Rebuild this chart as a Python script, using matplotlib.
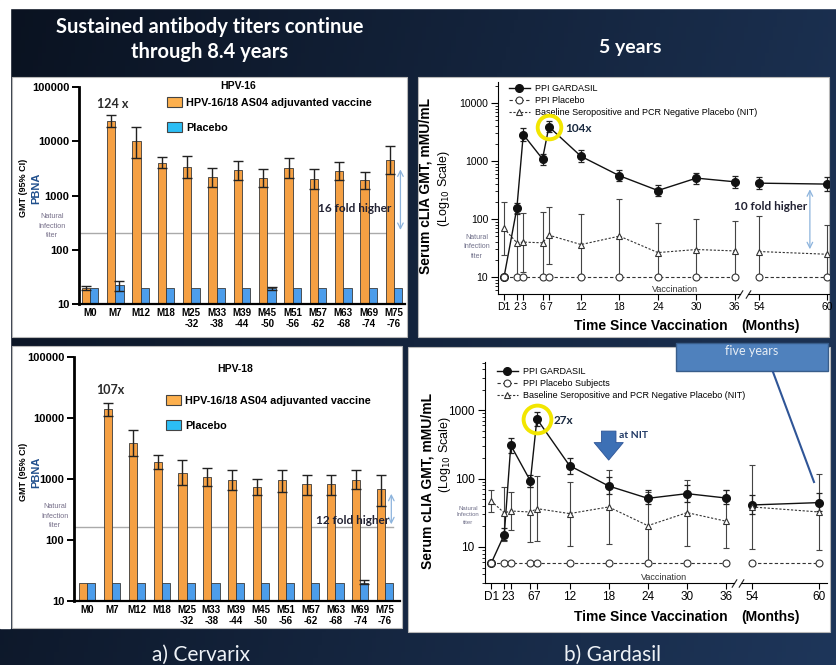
import numpy as np
import matplotlib
matplotlib.use('Agg')
import matplotlib.pyplot as plt
from matplotlib.patches import Rectangle, Patch
from matplotlib.ticker import LogLocator, NullFormatter, NullLocator

W, H = 836, 665

# ---------------- data ----------------
bar_categories = ['M0', 'M7', 'M12', 'M18', 'M25\n-32', 'M33\n-38', 'M39\n-44', 'M45\n-50',
                  'M51\n-56', 'M57\n-62', 'M63\n-68', 'M69\n-74', 'M75\n-76']

hpv16_vaccine = [20, 23200, 9900, 4050, 3330, 2200, 2920, 2140, 3220, 2000, 2880, 1900, 4580]
hpv16_vaccine_lo = [18.4, 18600, 4860, 3170, 2140, 1455, 1900, 1410, 2075, 1300, 1900, 1300, 2530]
hpv16_vaccine_hi = [21.5, 30200, 18600, 5080, 5300, 3270, 4340, 3130, 5010, 3130, 4220, 2760, 8330]
hpv16_placebo = [20, 22, 20, 20, 20, 20, 20, 20, 20, 20, 20, 20, 20]
hpv16_placebo_lo = [None, 17, None, None, None, None, None, 18.4, None, None, None, None, None]
hpv16_placebo_hi = [None, 26, None, None, None, None, None, 20.8, None, None, None, None, None]
hpv16_natural = 206
hpv16_fold_top = 3400

hpv18_vaccine = [20, 14200, 3890, 1900, 1270, 1080, 975, 740, 950, 818, 818, 975, 676]
hpv18_vaccine_lo = [None, 10600, 2360, 1480, 787, 767, 668, 540, 612, 540, 537, 676, 360]
hpv18_vaccine_hi = [None, 17600, 6440, 2510, 2020, 1515, 1420, 1010, 1420, 1175, 1175, 1390, 1175]
hpv18_placebo = [20, 20, 20, 20, 20, 20, 20, 20, 20, 20, 20, 19.8, 20]
hpv18_placebo_lo = [None, None, None, None, None, None, None, None, None, None, None, 18.7, None]
hpv18_placebo_hi = [None, None, None, None, None, None, None, None, None, None, None, 22.4, None]
hpv18_natural = 163
hpv18_fold_top = 635

months = [0, 2, 3, 6, 7, 12, 18, 24, 30, 36, 54, 60]
month_labels = ['D1', '2', '3', '6', '7', '12', '18', '24', '30', '36', '54', '60']

g16_vaccine = [10, 153, 2860, 1085, 3890, 1205, 557, 310, 507, 438, 415, 400]
g16_vaccine_lo = [None, 122, 2250, 863, 3140, 950, 444, 250, 405, 340, 327, 310]
g16_vaccine_hi = [None, 192, 3640, 1340, 4800, 1530, 708, 384, 620, 557, 527, 520]
g16_placebo = [10, 10, 10, 10, 10, 10, 10, 10, 10, 10, 10, 10]
g16_nit = [69, 38.9, 40, 38.9, 52.7, 36.3, 50.7, 26.4, 29.8, 28.2, 27.5, 24.7]
g16_nit_lo = [23.8, 10, 12.2, 10, 17, 10, 10, 10, 10, 10, 10, 10]
g16_nit_hi = [200, 125, 128, 134, 163, 120, 219, 84, 100, 91, 114, 79]
g16_fold = (363, 27)

g18_vaccine = [5.8, 15.2, 308, 92.5, 747, 155, 78, 51.5, 60.3, 52, 41.2, 44.6]
g18_vaccine_lo = [None, 12.5, 238, 75.5, 584, 118, 60, 42, 45.6, 43, 30.8, 33.7]
g18_vaccine_hi = [None, 19, 398, 112, 955, 200, 106, 67.5, 81.7, 69, 57, 61.6]
g18_placebo = [5.8, 5.8, 5.8, 5.8, 5.8, 5.8, 5.8, 5.8, 5.8, 5.8, 5.8, 5.8]
g18_nit = [47, 31.5, 33.6, 32.5, 36.4, 30.8, 38.5, 20.5, 31.8, 23.8, 38.5, 32.5]
g18_nit_lo = [32.5, 12.1, 17.5, 11.8, 12.1, 10.3, 10.9, 6, 10.3, 9.7, 9.2, 9.1]
g18_nit_hi = [67.6, 75.5, 63.8, 75, 108, 90.4, 133, 63.8, 94.6, 67.5, 157, 115.7]
g18_arrow = (545, 170)

# ---------------- styles ----------------
ORANGE = '#F5A043'
BLUE = '#4C9DEB'
LEG_ORANGE = '#FDB04E'
LEG_BLUE = '#2CBEF5'
ARIAL = ['Liberation Sans', 'DejaVu Sans']
CALIBRI = ['Lato', 'DejaVu Sans']

fig = plt.figure(figsize=(W / 100, H / 100), dpi=100)

# background gradient
bg = fig.add_axes([0, 0, 1, 1], zorder=-10)
xx = np.linspace(0, 1, 200)
yy = np.linspace(0, 1, 100)
X, Y = np.meshgrid(xx, yy)
t = np.clip(0.8 * X + 0.2 * Y, 0, 1)
c0 = np.array([10, 18, 32]) / 255
c1 = np.array([30, 54, 90]) / 255
img = c0[None, None, :] * (1 - t[..., None]) + c1[None, None, :] * t[..., None]
bg.imshow(img, extent=[0, W, H, 0], aspect='auto')
bg.set_xlim(0, W)
bg.set_ylim(H, 0)
bg.axis('off')
bg.add_patch(Rectangle((0, 0), W, 8, color='white'))
bg.add_patch(Rectangle((0, 0), 10, 628, color='white'))
for (x0, y0, x1, y1) in [(12, 77, 407, 337), (418, 77, 829, 337), (12, 346, 402, 628), (408, 347, 830, 632)]:
    bg.add_patch(Rectangle((x0, y0), x1 - x0, y1 - y0, fc='white', ec='#b8b8b8', lw=0.8))


def ftext(x, y, s, **kw):
    return fig.text(x / W, 1 - y / H, s, **kw)


def add_ax(x0, y0, x1, y1):
    a = fig.add_axes([x0 / W, 1 - y1 / H, (x1 - x0) / W, (y1 - y0) / H])
    a.patch.set_alpha(0)
    return a


def err(vals, lo, hi):
    idx = [i for i in range(len(vals)) if lo[i] is not None]
    v = np.array([vals[i] for i in idx], float)
    l = np.array([lo[i] for i in idx], float)
    h = np.array([hi[i] for i in idx], float)
    return np.array(idx), v, np.vstack([v - l, h - v])


def bar_panel(box, xlim, vac, vlo, vhi, plc, plo, phi, natural, fold_top, title, mult, fold_txt,
              title_xy, mult_xy, leg_xy, fold_xy, nat_xy, gmt_x, pbna_x, lab_y, nat_xmax):
    ax = add_ax(*box)
    ax.set_yscale('log')
    x = np.arange(len(bar_categories))
    w = 0.33
    ax.bar(x - w / 2, vac, w, color=ORANGE, edgecolor='#3a3a3a', linewidth=0.6, zorder=2)
    ax.bar(x + w / 2, plc, w, color=BLUE, edgecolor='#3a3a3a', linewidth=0.6, zorder=2)
    i, v, e = err(vac, vlo, vhi)
    ax.errorbar(i - w / 2, v, yerr=e, fmt='none', ecolor='#222', elinewidth=1, capsize=3.5, capthick=1, zorder=3)
    i, v, e = err(plc, plo, phi)
    if len(i):
        ax.errorbar(i + w / 2, v, yerr=e, fmt='none', ecolor='#222', elinewidth=1, capsize=3.5, capthick=1, zorder=3)
    ax.axhline(natural, xmin=0, xmax=nat_xmax, color='#aaaaaa', lw=1.0, zorder=1)
    ax.annotate('', xy=(12.25, fold_top), xytext=(12.25, natural),
                arrowprops=dict(arrowstyle='<->', color='#8DB4DD', lw=0.9))
    ax.set_xlim(*xlim)
    ax.set_ylim(10, 100000)
    ax.set_yticks([10, 100, 1000, 10000, 100000], labels=['10', '100', '1000', '10000', '100000'])
    ax.yaxis.set_minor_locator(NullLocator())
    ax.set_xticks(x, bar_categories)
    for lab in ax.get_yticklabels():
        lab.set_fontfamily(ARIAL); lab.set_fontweight('bold'); lab.set_fontsize(8)
    for lab in ax.get_xticklabels():
        lab.set_fontfamily(ARIAL); lab.set_fontweight('bold'); lab.set_fontsize(7); lab.set_linespacing(1.1)
    ax.tick_params(axis='y', direction='out', length=5, width=1.4, pad=2)
    ax.tick_params(axis='x', length=0, pad=3)
    for s in ['top', 'right']:
        ax.spines[s].set_visible(False)
    ax.spines['left'].set_linewidth(2)
    ax.spines['bottom'].set_linewidth(1.6)
    ax.legend(handles=[Patch(fc=LEG_ORANGE, ec='#444', lw=0.8), Patch(fc=LEG_BLUE, ec='#444', lw=0.8)],
              labels=['HPV-16/18 AS04 adjuvanted vaccine', 'Placebo'],
              loc='upper left', bbox_to_anchor=(leg_xy[0] / W, 1 - leg_xy[1] / H),
              bbox_transform=fig.transFigure, frameon=False,
              prop=dict(family=ARIAL, weight='bold', size=7.8),
              handlelength=1.4, handleheight=1.1, labelspacing=1.3, handletextpad=0.35,
              borderpad=0, borderaxespad=0)
    ftext(*title_xy, title, ha='center', va='center', family=ARIAL, weight='bold', size=7.5)
    ftext(*mult_xy, mult, ha='center', va='center', family=CALIBRI, weight='bold', size=9, color='#2a2a2a')
    ftext(*fold_xy, fold_txt, ha='center', va='center', family=CALIBRI, weight='bold', size=8.5, color='#222233')
    ftext(nat_xy[0], nat_xy[1], 'Natural\nInfection\ntiter', ha='center', va='center', family=ARIAL,
          size=5.2, color='#77708a', linespacing=1.5)
    ftext(gmt_x, lab_y, 'GMT (95% CI)', rotation=90, ha='center', va='center', family=ARIAL, weight='bold',
          size=6.5)
    ftext(pbna_x, lab_y, 'PBNA', rotation=90, ha='center', va='center', family=ARIAL, weight='bold', size=8,
          color='#1F4E8C')
    return ax


bar_panel((79, 87, 405, 304), (-0.43, 12.43), hpv16_vaccine, hpv16_vaccine_lo, hpv16_vaccine_hi,
          hpv16_placebo, hpv16_placebo_lo, hpv16_placebo_hi, hpv16_natural, hpv16_fold_top,
          'HPV-16', '124 x', '16 fold higher', (238, 86), (113, 104), (167, 97), (355, 208), (52, 226),
          23, 36, 188, 0.963)
bar_panel((74, 357, 400, 601), (-0.536, 12.6), hpv18_vaccine, hpv18_vaccine_lo, hpv18_vaccine_hi,
          hpv18_placebo, hpv18_placebo_lo, hpv18_placebo_hi, hpv18_natural, hpv18_fold_top,
          'HPV-18', '107x', '12 fold higher', (235, 369), (110, 390), (166, 395), (353, 520), (55, 516),
          23, 36, 472, 0.98)


def line_panel(boxL, boxR, xlimL, xlimR, ylim, vac, vlo, vhi, plc, nit, nlo, nhi, labels,
               leg_xy, tick_fs, ylab_x, ylab_y, vacc_xy, nat_xy, nat_fs, ring_ms, mult, mult_xy):
    axL = add_ax(*boxL)
    axR = add_ax(*boxR)
    m = np.array(months)
    handles = None
    for ax, sel in [(axL, m <= 36), (axR, m >= 54)]:
        ax.set_yscale('log')
        idx = np.where(sel)[0]
        i, v, e = err(nit, nlo, nhi)
        k = np.isin(i, idx)
        ax.errorbar(m[i[k]], v[k], yerr=e[:, k], fmt='none', ecolor='#444', elinewidth=0.8,
                    capsize=2.5, capthick=0.8, zorder=2)
        i, v, e = err(vac, vlo, vhi)
        k = np.isin(i, idx)
        ax.errorbar(m[i[k]], v[k], yerr=e[:, k], fmt='none', ecolor='#222', elinewidth=0.9,
                    capsize=2.5, capthick=0.9, zorder=3)
        hv, = ax.plot(m[idx], np.array(vac)[idx], '-', color='#111', lw=1.0, marker='o', ms=5.5,
                      mfc='#111', mec='#111', zorder=4)
        hp, = ax.plot(m[idx], np.array(plc)[idx], color='#333', ls=(0, (3, 2)), lw=0.8, marker='o', ms=5,
                      mfc='white', mec='#333', mew=0.8, zorder=5)
        hn, = ax.plot(m[idx], np.array(nit)[idx], color='#333', ls=(0, (2, 1.5)), lw=0.8, marker='^', ms=5,
                      mfc='white', mec='#333', mew=0.8, zorder=4)
        if handles is None:
            handles = [hv, hp, hn]
        ax.set_ylim(*ylim)
        ax.set_xticks(m[idx], [month_labels[j] for j in idx])
        for lab in ax.get_xticklabels():
            lab.set_fontfamily(ARIAL); lab.set_fontsize(tick_fs)
        ax.tick_params(axis='x', direction='out', length=4, width=0.8, pad=2)
        for s in ['top', 'right']:
            ax.spines[s].set_visible(False)
        ax.spines['bottom'].set_linewidth(0.8)
    axL.set_xlim(*xlimL)
    axR.set_xlim(*xlimR)
    yt = [t for t in [10, 100, 1000, 10000] if t < ylim[1]]
    axL.set_yticks(yt, labels=[str(t) for t in yt])
    axL.yaxis.set_minor_locator(LogLocator(base=10, subs=np.arange(2, 10)))
    axL.yaxis.set_minor_formatter(NullFormatter())
    axL.set_ylim(*ylim)
    for lab in axL.get_yticklabels():
        lab.set_fontfamily(ARIAL); lab.set_fontsize(tick_fs)
    axL.tick_params(axis='y', which='major', direction='out', length=5, width=0.8, pad=2)
    axL.tick_params(axis='y', which='minor', direction='out', length=2.5, width=0.6)
    axL.spines['left'].set_linewidth(0.8)
    axR.spines['left'].set_visible(False)
    axR.tick_params(axis='y', which='both', left=False, labelleft=False)
    # axis break marks
    for ax, xb in [(axL, 1), (axR, 0)]:
        ax.plot([xb], [0], transform=ax.transAxes, marker=[(-1, -1.6), (1, 1.6)], ms=6, ls='none',
                mec='#222', mew=0.8, clip_on=False)
    # highlight ring around month-7 peak
    j = months.index(7)
    axL.plot([7], [vac[j]], 'o', ms=ring_ms, mfc='none', mec='#F2E600', mew=2.8, zorder=6)
    axL.legend(handles=handles, labels=labels, loc='upper left',
               bbox_to_anchor=(leg_xy[0] / W, 1 - leg_xy[1] / H), bbox_transform=fig.transFigure,
               frameon=False, prop=dict(family=ARIAL, size=6.5), handlelength=2.3, labelspacing=0.35,
               handletextpad=0.6, borderpad=0, borderaxespad=0)
    ftext(ylab_x[0], ylab_y[0], 'Serum cLIA GMT, mMU/mL', rotation=90, ha='center', va='center',
          family=ARIAL, weight='bold', size=10)
    ftext(ylab_x[1], ylab_y[1], '(Log$_{10}$ Scale)', rotation=90, ha='center', va='center',
          family=ARIAL, size=9)
    ftext(*vacc_xy, 'Vaccination', ha='center', va='center', family=ARIAL, size=6.5, color='#333')
    ftext(nat_xy[0], nat_xy[1], 'Natural\nInfection\ntiter', ha='center', va='center', family=ARIAL,
          size=nat_fs, color='#70708a', linespacing=1.5)
    ftext(*mult_xy, mult, ha='left', va='center', family=CALIBRI, weight='bold', size=8.5, color='#1a2a40')
    return axL, axR


# Gardasil HPV-16 (top right)
tl, tr = line_panel((498, 82, 740, 294), (748, 82, 829, 294), (-0.94, 36.8), (53.0, 60.16), (5.1, 23000),
                    g16_vaccine, g16_vaccine_lo, g16_vaccine_hi, g16_placebo, g16_nit, g16_nit_lo, g16_nit_hi,
                    ['PPI GARDASIL', 'PPI Placebo', 'Baseline Seropositive and PCR Negative Placebo (NIT)'],
                    (509, 84), 7.5, (425, 444), (186, 189), (675, 289), (477, 247), 5.0, 17, '104x', (565, 129))
tr.annotate('', xy=(58.47, g16_fold[0]), xytext=(58.47, g16_fold[1]),
            arrowprops=dict(arrowstyle='<->', color='#8DB4DD', lw=0.9))
ftext(771, 206, '10 fold higher', ha='center', va='center', family=CALIBRI, weight='bold', size=8.5,
      color='#222233')
ftext(651, 326, 'Time Since Vaccination', ha='center', va='center', family=ARIAL, weight='bold', size=10)
ftext(771, 326, '(Months)', ha='center', va='center', family=ARIAL, weight='bold', size=10)

# Gardasil HPV-18 (bottom right)
bl, br = line_panel((484.5, 362, 734, 583), (741, 362, 827, 583), (-1.03, 37.2), (53.0, 60.7), (2.97, 5090),
                    g18_vaccine, g18_vaccine_lo, g18_vaccine_hi, g18_placebo, g18_nit, g18_nit_lo, g18_nit_hi,
                    ['PPI GARDASIL', 'PPI Placebo Subjects', 'Baseline Seropositive and PCR Negative Placebo (NIT)'],
                    (497, 367), 8.5, (428, 445), (481, 455), (664, 578), (468, 515), 4.3, 20, '27x', (554, 421))
bl.annotate('', xy=(18, g18_arrow[1]), xytext=(18, g18_arrow[0]),
            arrowprops=dict(arrowstyle='simple,head_width=1.5,head_length=0.9,tail_width=0.75',
                            mutation_scale=14, fc='#3D70B5', ec='#2F5597', lw=0.6))
ftext(619, 435, 'at NIT', ha='left', va='center', family=CALIBRI, weight='bold', size=7.5, color='#1F3864')
ftext(651, 617, 'Time Since Vaccination', ha='center', va='center', family=ARIAL, weight='bold', size=10)
ftext(771, 617, '(Months)', ha='center', va='center', family=ARIAL, weight='bold', size=10)

# callout box
bg.add_patch(Rectangle((676, 343), 152, 28, fc='#4F81BD', ec='#385D8A', lw=1.0, zorder=5))
bg.text(752, 351, 'five years', ha='center', va='center', family=CALIBRI, size=9, color='#E6EDF5', zorder=6)
bg.plot([773, 814], [372, 482], color='#2F5597', lw=1.5, zorder=6)

# slide titles
ftext(210, 27, 'Sustained antibody titers continue', ha='center', va='center', family=CALIBRI,
      weight='bold', size=14.5, color='white')
ftext(210, 52, 'through 8.4 years', ha='center', va='center', family=CALIBRI, weight='bold', size=14.5,
      color='white')
ftext(630, 48, '5 years', ha='center', va='center', family=CALIBRI, weight='bold', size=14, color='white')
ftext(201, 655, 'a) Cervarix', ha='center', va='center', family=CALIBRI, size=15, color='#EEF2F7')
ftext(613, 655, 'b) Gardasil', ha='center', va='center', family=CALIBRI, size=15, color='#EEF2F7')

fig.savefig('out.png', dpi=100)
